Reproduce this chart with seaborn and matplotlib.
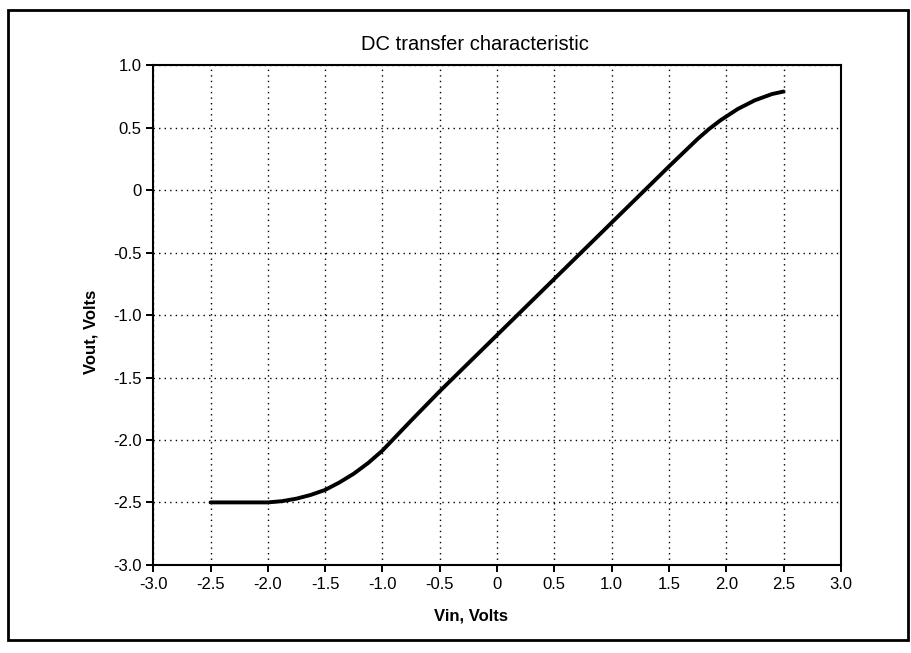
import matplotlib
matplotlib.use("Agg")
import matplotlib.pyplot as plt
import seaborn as sns
import pandas as pd
from matplotlib.patches import Rectangle

vin = [-2.5, -2.25, -2.0, -1.875, -1.75, -1.625, -1.5, -1.375, -1.25, -1.125, -1.0,
       -0.875, -0.75, -0.5, -0.25, 0.0, 0.25, 0.5, 0.75, 1.0, 1.25, 1.5, 1.75,
       1.85, 1.95, 2.1, 2.25, 2.4, 2.5]
vout = [-2.50, -2.50, -2.50, -2.49, -2.47, -2.44, -2.40, -2.34, -2.27, -2.185, -2.085,
        -1.965, -1.845, -1.61, -1.385, -1.16, -0.935, -0.71, -0.485, -0.26, -0.035, 0.19, 0.41,
        0.49, 0.56, 0.65, 0.72, 0.77, 0.79]
xticks = [-3.0, -2.5, -2.0, -1.5, -1.0, -0.5, 0.0, 0.5, 1.0, 1.5, 2.0, 2.5, 3.0]
xticklabels = ["-3.0", "-2.5", "-2.0", "-1.5", "-1.0", "-0.5", "0", "0.5", "1.0", "1.5", "2.0", "2.5", "3.0"]
yticks = [-3.0, -2.5, -2.0, -1.5, -1.0, -0.5, 0.0, 0.5, 1.0]
yticklabels = ["-3.0", "-2.5", "-2.0", "-1.5", "-1.0", "-0.5", "0", "0.5", "1.0"]

sns.set_style("ticks")
plt.rcParams["font.family"] = ["Liberation Sans", "DejaVu Sans"]

df = pd.DataFrame({"Vin": vin, "Vout": vout})

fig = plt.figure(figsize=(9.12, 6.53), dpi=100)
ax = fig.add_axes([0.168, 0.135, 0.754, 0.765])
sns.lineplot(data=df, x="Vin", y="Vout", ax=ax, color="black", linewidth=2.8)

ax.set_xlim(-3.0, 3.0)
ax.set_ylim(-3.0, 1.0)
ax.set_xticks(xticks)
ax.set_xticklabels(xticklabels)
ax.set_yticks(yticks)
ax.set_yticklabels(yticklabels)
ax.tick_params(axis="both", direction="out", length=5, width=1.4, color="black",
               labelsize=12, labelcolor="black")
ax.grid(True, color="black", linestyle=(0, (1, 3)), linewidth=1.0)
for s in ax.spines.values():
    s.set_visible(True)
    s.set_color("black")
    s.set_linewidth(1.5)

ax.set_title("DC transfer characteristic", fontsize=14.5, color="black", x=0.468, pad=11)
ax.set_xlabel("Vin, Volts", fontsize=12, color="black", fontweight="bold")
ax.xaxis.set_label_coords(0.462, -0.088)
ax.set_ylabel("Vout, Volts", fontsize=12, color="black", fontweight="bold")
ax.yaxis.set_label_coords(-0.08, 0.466)

fig.add_artist(Rectangle((8 / 912, 1 - 640 / 653), 900 / 912, 630 / 653,
                         transform=fig.transFigure, fill=False,
                         edgecolor="black", linewidth=2.0))

fig.savefig("out.png", dpi=100, facecolor="white")
